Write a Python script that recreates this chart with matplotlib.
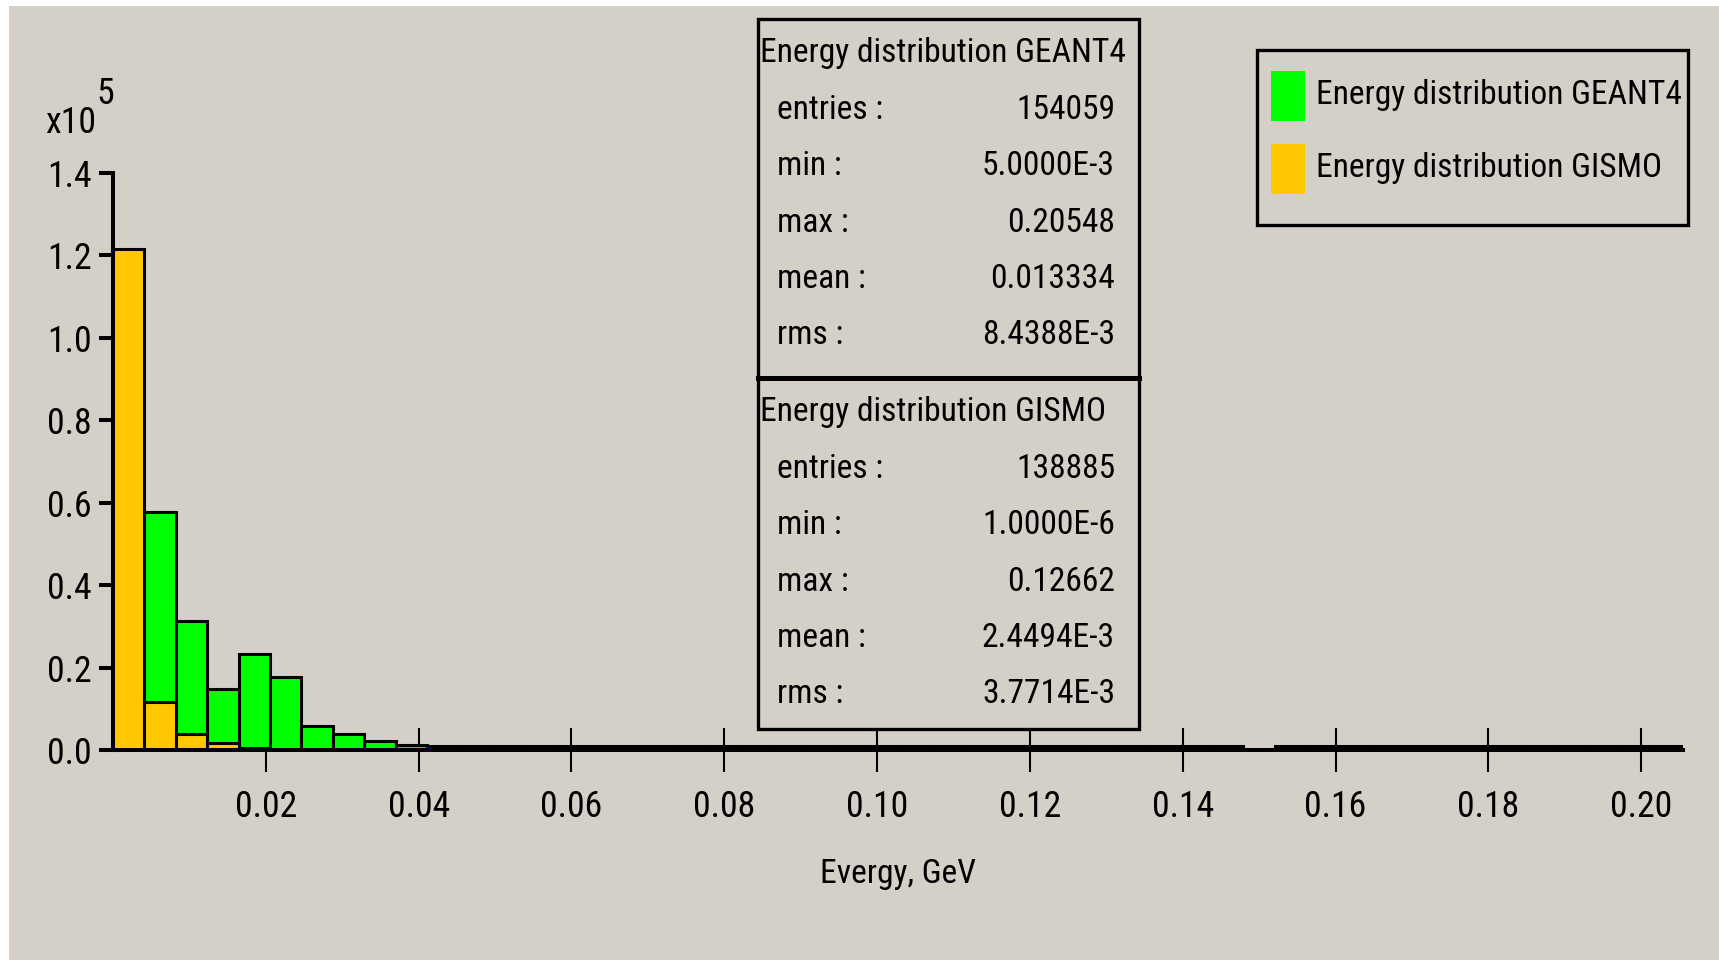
import numpy as np
import matplotlib
matplotlib.use("Agg")
import matplotlib.pyplot as plt
from matplotlib import font_manager as fm
from matplotlib.textpath import TextPath
from matplotlib.patches import Rectangle
from matplotlib.lines import Line2D
from matplotlib.ticker import FixedLocator

# histogram contents (entries per bin), 50 bins from 0 to 0.20548 GeV
x_max = 0.20548
n_bins = 50
geant4_counts = [0, 57700, 31200, 14800, 23400, 17600, 5900, 4000, 2100, 1100,
                 1000, 1000, 1000, 1000, 1000, 1000, 1000, 1000, 1000, 1000,
                 1000, 1000, 1000, 1000, 1000, 1000, 1000, 1000, 1000, 1000,
                 1000, 1000, 1000, 1000, 1000, 1000, 0, 1000, 1000, 1000,
                 1000, 1000, 1000, 1000, 1000, 1000, 1000, 1000, 1000, 1000]
gismo_counts = [121600, 11700, 3900, 1600, 500, 0, 0, 0, 0, 0,
                0, 0, 0, 0, 0, 0, 0, 0, 0, 0,
                0, 0, 0, 0, 0, 0, 0, 0, 0, 0,
                0, 0, 0, 0, 0, 0, 0, 0, 0, 0,
                0, 0, 0, 0, 0, 0, 0, 0, 0, 0]

series_names = ["Energy distribution GEANT4", "Energy distribution GISMO"]
series_colors = ["#00FF00", "#FFC800"]
stat_names = ["entries :", "min :", "max :", "mean :", "rms :"]
geant4_stats = ["154059", "5.0000E-3", "0.20548", "0.013334", "8.4388E-3"]
gismo_stats = ["138885", "1.0000E-6", "0.12662", "2.4494E-3", "3.7714E-3"]

y_ticks = [0, 20000, 40000, 60000, 80000, 100000, 120000, 140000]
x_ticks = [0.02, 0.04, 0.06, 0.08, 0.10, 0.12, 0.14, 0.16, 0.18, 0.20]

W, H = 1719, 960
bg = "#D4D0C8"

# the original uses a very narrow screen font: pick the narrowest installed sans face
sans_names = ("Liberation Sans", "DejaVu Sans", "Noto Sans", "Roboto",
              "Open Sans", "Lato", "Inter")
probe = series_names[0]
best = None
for f in fm.fontManager.ttflist:
    if not f.name.startswith(sans_names) or "Mono" in f.name:
        continue
    if f.style != "normal" or f.weight not in (400, "normal", "regular", "book"):
        continue
    if not f.fname.lower().endswith((".ttf", ".otf")):
        continue
    try:
        prop = fm.FontProperties(fname=f.fname)
        w = TextPath((0, 0), probe, size=100, prop=prop).get_extents().width
        h = TextPath((0, 0), "E", size=100, prop=prop).get_extents().height
    except Exception:
        continue
    ratio = w / h
    if best is None or abs(ratio - 12.2) < abs(best[0] - 12.2):
        best = (ratio, f.fname, w)

font_file = best[1]
# legend/stat text in the reference is ~362 px wide
fs = 362 / best[2] * 100 * 72 / 100
tick_fs = fs * 1.07


def tf(size=None):
    return fm.FontProperties(fname=font_file, size=size or fs)


def fx(px):
    return px / W


def fy(py):
    return 1 - py / H


def px_rect(x0, y0, x1, y1, **kw):
    return Rectangle((fx(x0), fy(y1)), (x1 - x0) / W, (y1 - y0) / H,
                     transform=fig.transFigure, **kw)


fig = plt.figure(figsize=(W / 100, H / 100), dpi=100, facecolor="white")
fig.add_artist(px_rect(9, 6, W + 5, H + 5, facecolor=bg, edgecolor="none", zorder=-10))

ax = fig.add_axes([fx(113), fy(750), (1683 - 113) / W, (750 - 173) / H])
ax.set_facecolor("none")

edges = np.linspace(0, x_max, n_bins + 1)
bw = edges[1] - edges[0]
ax.bar(edges[:-1], geant4_counts, width=bw, align="edge", color=series_colors[0],
       edgecolor="black", linewidth=2.2, zorder=2)
ax.bar(edges[:-1], gismo_counts, width=bw, align="edge", color=series_colors[1],
       edgecolor="black", linewidth=2.2, zorder=3)

ax.set_xlim(0, x_max)
ax.set_ylim(0, 140000)
for s in ["top", "right"]:
    ax.spines[s].set_visible(False)
for s in ["left", "bottom"]:
    ax.spines[s].set_linewidth(2.9)
    ax.spines[s].set_zorder(4)

ax.set_yticks(y_ticks)
ax.set_yticklabels([f"{v / 1e5:.1f}" for v in y_ticks])
ax.yaxis.set_minor_locator(FixedLocator([140000]))
ax.tick_params(axis="y", which="major", direction="out", length=10, width=2.9, pad=5.5)
ax.tick_params(axis="y", which="minor", direction="in", length=11.5, width=2.9)
ax.set_xticks(x_ticks)
ax.set_xticklabels([f"{v:.2f}" for v in x_ticks])
ax.tick_params(axis="x", direction="inout", length=31.7, width=1.5, pad=12.5)
for lab in ax.get_xticklabels() + ax.get_yticklabels():
    lab.set_fontproperties(tf(tick_fs))

fig.text(fx(898), fy(874), "Evergy, GeV", ha="center", va="center", fontproperties=tf())
fig.text(fx(45), fy(133), "x10", ha="left", va="baseline", fontproperties=tf(tick_fs))
fig.text(fx(96), fy(104), "5", ha="left", va="baseline", fontproperties=tf(tick_fs))

# statistics boxes
for (top, bot), name, vals in zip([(19, 378), (378, 729)], series_names,
                                  [geant4_stats, gismo_stats]):
    fig.add_artist(px_rect(758, top, 1139, bot, facecolor=bg, edgecolor="black",
                           linewidth=2.4, zorder=5))
    fig.text(fx(760), fy(top + 34), name, ha="left", va="center",
             fontproperties=tf(), zorder=6)
    for i, (lab, val) in enumerate(zip(stat_names, vals)):
        y = top + 91 + i * 56.3
        fig.text(fx(777), fy(y), lab, ha="left", va="center", fontproperties=tf(), zorder=6)
        fig.text(fx(1115), fy(y), val, ha="right", va="center", fontproperties=tf(), zorder=6)
fig.add_artist(Line2D([fx(758), fx(1139)], [fy(378), fy(378)], color="black",
                      linewidth=3.6, transform=fig.transFigure, zorder=7))

# legend
fig.add_artist(px_rect(1257, 50, 1688, 225, facecolor=bg, edgecolor="black",
                       linewidth=2.4, zorder=5))
for i, (name, col) in enumerate(zip(series_names, series_colors)):
    y0 = 71 + i * 73
    fig.add_artist(px_rect(1271, y0, 1305, y0 + 50, facecolor=col, edgecolor="none", zorder=6))
    fig.text(fx(1316), fy(y0 + 24), name, ha="left", va="center",
             fontproperties=tf(), zorder=6)

fig.savefig("out.png", dpi=100, facecolor=fig.get_facecolor())
